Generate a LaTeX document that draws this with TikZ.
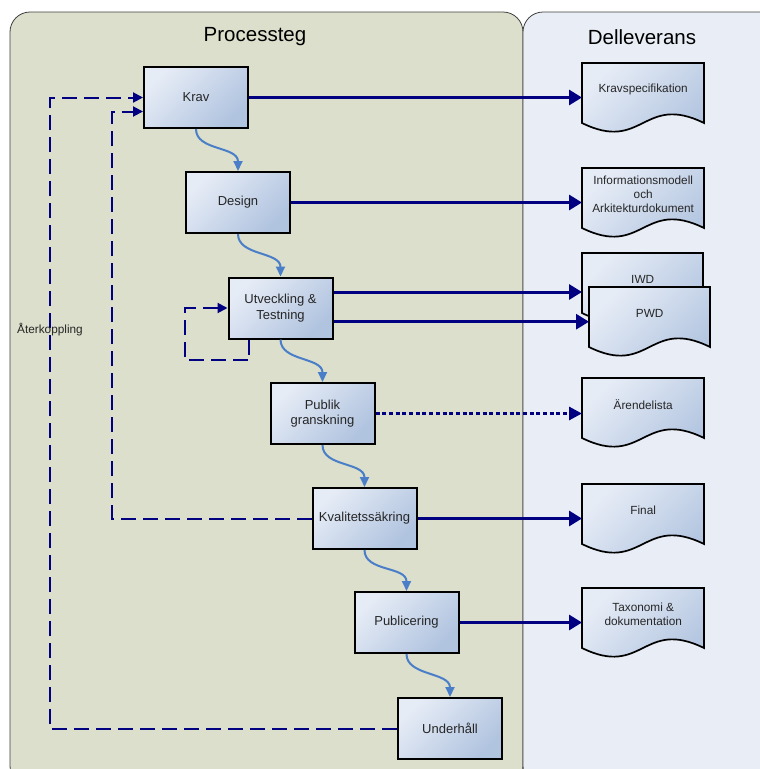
\documentclass[tikz,border=0pt]{standalone}
\usepackage{fontspec}
\setmainfont{Liberation Sans}
\usetikzlibrary{arrows.meta,calc}
\definecolor{navyc}{HTML}{000080}
\definecolor{bluec}{HTML}{4A7EC8}
\definecolor{leftpanel}{HTML}{DBDFCB}
\definecolor{rightpanel}{HTML}{E9EEF6}
\definecolor{boxlight}{HTML}{E6ECF6}
\definecolor{boxdark}{HTML}{B0C3DF}
\definecolor{edgec}{HTML}{404040}
\newcommand\docpath[3]{%
  \path[docshape] (#1,#2) -- (#1+#3,#2) -- (#1+#3,#2+60)
    .. controls (#1+#3/2,#2+30) and (#1+#3/2,#2+90) .. (#1,#2+60) -- cycle;}
\begin{document}
\begin{tikzpicture}[x=1pt,y=-1pt,
  panel/.style={draw=edgec, line width=0.8pt, rounded corners=20pt},
  title/.style={font=\fontsize{20.5}{24}\selectfont, text=black},
  stepbox/.style={draw=black, line width=2pt, minimum width=104pt, minimum height=61pt,
    inner sep=0pt, top color=boxlight, bottom color=boxdark, shading angle=45,
    font=\fontsize{13}{15.6}\selectfont, align=center, text=black!85},
  docshape/.style={draw=black, line width=1.7pt, top color=boxlight, bottom color=boxdark, shading angle=45},
  doctext/.style={anchor=north west, minimum height=52pt, inner sep=0pt,
    font=\fontsize{11.8}{14}\selectfont, align=center, text=black!85},
  deliv/.style={draw=navyc, line width=3pt, -{Triangle[length=13pt,width=15pt]}},
  dotdeliv/.style={draw=navyc, line width=3pt, dash pattern=on 4pt off 2.7pt, -{Triangle[length=13pt,width=13pt]}},
  flow/.style={draw=bluec, line width=2pt, -{Triangle[length=10pt,width=9pt]}},
  fb/.style={draw=navyc, line width=2pt, dash pattern=on 15pt off 7pt, -{Triangle[length=10pt,width=10pt]}},
  fbline/.style={draw=navyc, line width=2pt, dash pattern=on 15pt off 7pt}
]
\useasboundingbox (0,0) rectangle (760,769);
\clip (0,0) rectangle (760,769);
\fill[white] (0,0) rectangle (760,769);
% panels
\path[panel, fill=leftpanel] (10,12) rectangle (523,786);
\path[panel, fill=rightpanel] (523,12) rectangle (800,786);
\node[title] (ptitle) at (255,37) {Processteg};
\node[title] (dtitle) at (642,37) {Delleverans};

% documents
\docpath{582}{63}{122}
\node[doctext, minimum width=122pt] (kdoc) at (582,63) {Kravspecifikation};
\docpath{582}{168}{122}
\node[doctext, minimum width=122pt] (idoc) at (582,168) {Informationsmodell\\och\\Arkitekturdokument};
\docpath{582}{253}{121}
\node[doctext, minimum width=121pt] (iwd) at (582,253) {IWD};
\docpath{589}{287}{121}
\node[doctext, minimum width=121pt] (pwd) at (589,287) {PWD};
\docpath{582}{378}{122}
\node[doctext, minimum width=122pt] (adoc) at (582,378) {Ärendelista};
\docpath{582}{484}{122}
\node[doctext, minimum width=122pt] (fdoc) at (582,484) {Final};
\docpath{582}{588}{122}
\node[doctext, minimum width=122pt] (tdoc) at (582,588) {Taxonomi \&\\dokumentation};

% coordinates for feedback routing
\coordinate (fbo) at (50,400);
\coordinate (fbi) at (112,300);
\coordinate (slc) at (185,360);

% feedback lines (behind boxes)
\node[stepbox] (krav) at (196,97.5) {Krav};
\node[stepbox] (design) at (238,202.5) {Design};
\node[stepbox] (utv) at (280.5,308) {Utveckling \&\\Testning};
\node[stepbox] (publik) at (322.5,413.5) {Publik\\granskning};
\node[stepbox] (kval) at (364.5,518.5) {Kvalitetssäkring};
\node[stepbox] (publ) at (406.5,622.5) {Publicering};
\node[stepbox] (und) at (450,728.5) {Underhåll};

\coordinate (kravin) at ([yshift=-14pt]krav.west);
\coordinate (utvout) at ([xshift=-31.5pt]utv.south);
\coordinate (u1) at ([yshift=16pt]utv.east);
\coordinate (u2) at ([yshift=-13.7pt]utv.east);

\draw[fb] (und.west) -| (fbo) |- (krav.west);
\draw[fb] (kval.west) -| (fbi) |- (kravin);
\draw[fb] (utvout) |- (slc) |- (utv.west);

\node[anchor=west, font=\fontsize{11.8}{14}\selectfont, text=black!85, inner sep=0pt] (aterk) at (17,330) {Återkoppling};

% process flow
\draw[flow] (krav.south) .. controls +(0,22) and +(0,-25) .. (design.north);
\draw[flow] (design.south) .. controls +(0,22) and +(0,-25) .. (utv.north);
\draw[flow] (utv.south) .. controls +(0,22) and +(0,-25) .. (publik.north);
\draw[flow] (publik.south) .. controls +(0,22) and +(0,-25) .. (kval.north);
\draw[flow] (kval.south) .. controls +(0,22) and +(0,-25) .. (publ.north);
\draw[flow] (publ.south) .. controls +(0,22) and +(0,-25) .. (und.north);

% deliverables
\draw[deliv] (krav.east) -- (krav.east -| kdoc.west);
\draw[deliv] (design.east) -- (design.east -| idoc.west);
\draw[deliv] (u1) -- (u1 -| iwd.west);
\draw[deliv] (u2) -- (u2 -| pwd.west);
\draw[dotdeliv] (publik.east) -- (publik.east -| adoc.west);
\draw[deliv] (kval.east) -- (kval.east -| fdoc.west);
\draw[deliv] (publ.east) -- (publ.east -| tdoc.west);
\end{tikzpicture}
\end{document}
